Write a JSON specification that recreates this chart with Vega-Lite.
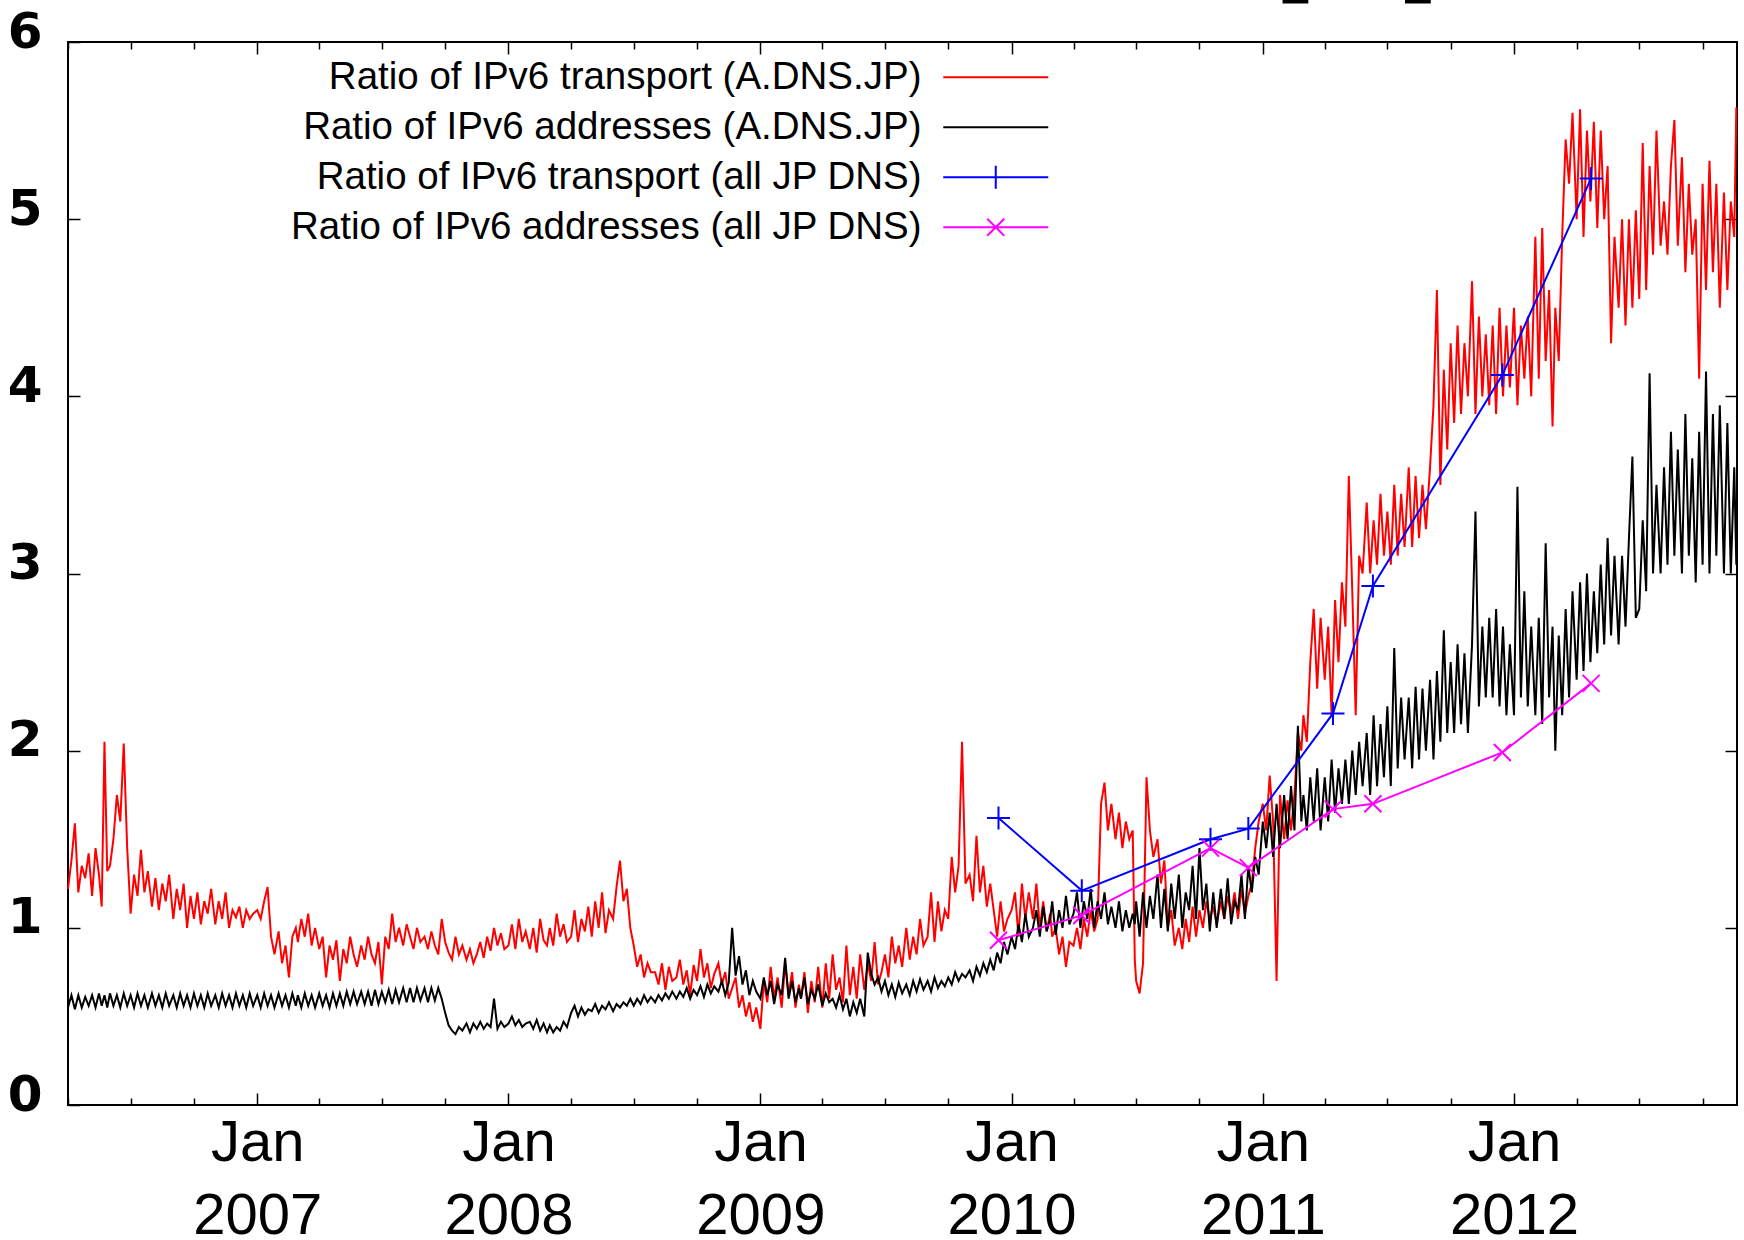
{
  "$schema": "https://vega.github.io/schema/vega-lite/v6.json",
  "width": 1669,
  "height": 1063,
  "autosize": {"type": "none"},
  "padding": {"left": 68, "top": 42, "right": 7, "bottom": 135},
  "background": "white",
  "config": {
    "font": "Liberation Sans",
    "view": {"stroke": "#000", "strokeWidth": 2},
    "axis": {"grid": false, "domain": false, "tickColor": "#000", "tickWidth": 1.5, "labelColor": "#000", "title": null}
  },
  "datasets": {
    "main": [
      {"t":"2006-04-01","r":1.22,"b":0.55},{"t":"2006-04-06","r":1.38,"b":0.62},{"t":"2006-04-11","r":1.59,"b":0.54},{"t":"2006-04-16","r":1.20,"b":0.62},{"t":"2006-04-21","r":1.35,"b":0.55},{"t":"2006-04-26","r":1.28,"b":0.61},
      {"t":"2006-05-01","r":1.42,"b":0.56},{"t":"2006-05-06","r":1.18,"b":0.62},{"t":"2006-05-11","r":1.45,"b":0.55},{"t":"2006-05-16","r":1.30,"b":0.63},{"t":"2006-05-20","r":1.12,"b":0.56},{"t":"2006-05-24","r":2.05,"b":0.62},{"t":"2006-05-28","r":1.32,"b":0.55},
      {"t":"2006-06-01","r":1.35,"b":0.63},{"t":"2006-06-06","r":1.50,"b":0.56},{"t":"2006-06-11","r":1.75,"b":0.62},{"t":"2006-06-16","r":1.60,"b":0.55},{"t":"2006-06-21","r":2.04,"b":0.63},{"t":"2006-06-26","r":1.45,"b":0.56},
      {"t":"2006-07-01","r":1.08,"b":0.62},{"t":"2006-07-06","r":1.30,"b":0.55},{"t":"2006-07-11","r":1.18,"b":0.63},{"t":"2006-07-16","r":1.44,"b":0.56},{"t":"2006-07-21","r":1.20,"b":0.62},{"t":"2006-07-26","r":1.32,"b":0.55},
      {"t":"2006-08-01","r":1.12,"b":0.63},{"t":"2006-08-06","r":1.28,"b":0.56},{"t":"2006-08-11","r":1.10,"b":0.62},{"t":"2006-08-16","r":1.25,"b":0.55},{"t":"2006-08-21","r":1.15,"b":0.63},{"t":"2006-08-26","r":1.30,"b":0.56},
      {"t":"2006-09-01","r":1.05,"b":0.62},{"t":"2006-09-06","r":1.22,"b":0.55},{"t":"2006-09-11","r":1.10,"b":0.63},{"t":"2006-09-16","r":1.25,"b":0.56},{"t":"2006-09-21","r":1.00,"b":0.62},{"t":"2006-09-26","r":1.18,"b":0.55},
      {"t":"2006-10-01","r":1.05,"b":0.63},{"t":"2006-10-06","r":1.20,"b":0.56},{"t":"2006-10-11","r":1.02,"b":0.62},{"t":"2006-10-16","r":1.15,"b":0.55},{"t":"2006-10-21","r":1.08,"b":0.63},{"t":"2006-10-26","r":1.22,"b":0.56},
      {"t":"2006-11-01","r":1.02,"b":0.62},{"t":"2006-11-06","r":1.15,"b":0.55},{"t":"2006-11-11","r":1.05,"b":0.63},{"t":"2006-11-16","r":1.20,"b":0.56},{"t":"2006-11-21","r":1.00,"b":0.62},{"t":"2006-11-26","r":1.10,"b":0.55},
      {"t":"2006-12-01","r":1.06,"b":0.63},{"t":"2006-12-06","r":1.12,"b":0.56},{"t":"2006-12-11","r":1.00,"b":0.62},{"t":"2006-12-16","r":1.10,"b":0.55},{"t":"2006-12-21","r":1.05,"b":0.63},{"t":"2006-12-26","r":1.08,"b":0.56},
      {"t":"2007-01-01","r":1.10,"b":0.62},{"t":"2007-01-06","r":1.05,"b":0.55},{"t":"2007-01-11","r":1.15,"b":0.63},{"t":"2007-01-16","r":1.23,"b":0.56},{"t":"2007-01-21","r":0.95,"b":0.62},{"t":"2007-01-26","r":0.85,"b":0.55},
      {"t":"2007-02-01","r":0.98,"b":0.63},{"t":"2007-02-06","r":0.80,"b":0.56},{"t":"2007-02-11","r":0.90,"b":0.62},{"t":"2007-02-16","r":0.72,"b":0.55},{"t":"2007-02-21","r":0.95,"b":0.63},{"t":"2007-02-26","r":1.00,"b":0.56},
      {"t":"2007-03-01","r":0.92,"b":0.62},{"t":"2007-03-06","r":1.05,"b":0.55},{"t":"2007-03-11","r":0.95,"b":0.63},{"t":"2007-03-16","r":1.08,"b":0.56},{"t":"2007-03-21","r":0.90,"b":0.62},{"t":"2007-03-26","r":1.00,"b":0.55},
      {"t":"2007-04-01","r":0.88,"b":0.63},{"t":"2007-04-06","r":0.95,"b":0.56},{"t":"2007-04-11","r":0.72,"b":0.62},{"t":"2007-04-16","r":0.90,"b":0.55},{"t":"2007-04-21","r":0.82,"b":0.63},{"t":"2007-04-26","r":0.93,"b":0.56},
      {"t":"2007-05-01","r":0.70,"b":0.63},{"t":"2007-05-06","r":0.88,"b":0.56},{"t":"2007-05-11","r":0.80,"b":0.64},{"t":"2007-05-16","r":0.95,"b":0.57},{"t":"2007-05-21","r":0.85,"b":0.64},{"t":"2007-05-26","r":0.78,"b":0.57},
      {"t":"2007-06-01","r":0.90,"b":0.64},{"t":"2007-06-06","r":0.82,"b":0.57},{"t":"2007-06-11","r":0.95,"b":0.64},{"t":"2007-06-16","r":0.85,"b":0.56},{"t":"2007-06-21","r":0.80,"b":0.65},{"t":"2007-06-26","r":0.92,"b":0.57},
      {"t":"2007-07-01","r":0.68,"b":0.64},{"t":"2007-07-06","r":0.95,"b":0.58},{"t":"2007-07-11","r":0.88,"b":0.65},{"t":"2007-07-16","r":1.08,"b":0.57},{"t":"2007-07-21","r":0.92,"b":0.65},{"t":"2007-07-26","r":1.00,"b":0.58},
      {"t":"2007-08-01","r":0.90,"b":0.66},{"t":"2007-08-06","r":1.02,"b":0.58},{"t":"2007-08-11","r":0.95,"b":0.66},{"t":"2007-08-16","r":0.88,"b":0.58},{"t":"2007-08-21","r":1.00,"b":0.66},{"t":"2007-08-26","r":0.92,"b":0.59},
      {"t":"2007-09-01","r":0.95,"b":0.66},{"t":"2007-09-06","r":0.88,"b":0.58},{"t":"2007-09-11","r":0.98,"b":0.66},{"t":"2007-09-16","r":0.90,"b":0.59},{"t":"2007-09-21","r":0.85,"b":0.66},{"t":"2007-09-26","r":1.05,"b":0.60},
      {"t":"2007-10-01","r":0.92,"b":0.52},{"t":"2007-10-06","r":0.86,"b":0.45},{"t":"2007-10-11","r":0.82,"b":0.42},{"t":"2007-10-16","r":0.95,"b":0.40},{"t":"2007-10-21","r":0.85,"b":0.44},{"t":"2007-10-26","r":0.90,"b":0.42},
      {"t":"2007-11-01","r":0.82,"b":0.46},{"t":"2007-11-06","r":0.88,"b":0.41},{"t":"2007-11-11","r":0.80,"b":0.46},{"t":"2007-11-16","r":0.85,"b":0.43},{"t":"2007-11-21","r":0.92,"b":0.47},{"t":"2007-11-26","r":0.83,"b":0.43},
      {"t":"2007-12-01","r":0.95,"b":0.46},{"t":"2007-12-06","r":0.87,"b":0.44},{"t":"2007-12-11","r":1.00,"b":0.60},{"t":"2007-12-16","r":0.90,"b":0.43},{"t":"2007-12-21","r":0.97,"b":0.47},{"t":"2007-12-26","r":0.88,"b":0.44},
      {"t":"2008-01-01","r":0.90,"b":0.46},{"t":"2008-01-06","r":1.02,"b":0.50},{"t":"2008-01-11","r":0.88,"b":0.45},{"t":"2008-01-16","r":1.05,"b":0.48},{"t":"2008-01-21","r":0.92,"b":0.44},{"t":"2008-01-26","r":0.98,"b":0.46},
      {"t":"2008-02-01","r":0.88,"b":0.47},{"t":"2008-02-06","r":1.00,"b":0.43},{"t":"2008-02-11","r":0.86,"b":0.48},{"t":"2008-02-16","r":1.05,"b":0.42},{"t":"2008-02-21","r":0.93,"b":0.46},{"t":"2008-02-26","r":0.90,"b":0.41},
      {"t":"2008-03-01","r":1.00,"b":0.45},{"t":"2008-03-06","r":0.90,"b":0.41},{"t":"2008-03-11","r":1.08,"b":0.44},{"t":"2008-03-16","r":0.95,"b":0.42},{"t":"2008-03-21","r":1.02,"b":0.47},{"t":"2008-03-26","r":0.92,"b":0.44},
      {"t":"2008-04-01","r":0.95,"b":0.52},{"t":"2008-04-06","r":1.10,"b":0.56},{"t":"2008-04-11","r":0.92,"b":0.50},{"t":"2008-04-16","r":1.05,"b":0.55},{"t":"2008-04-21","r":0.98,"b":0.51},{"t":"2008-04-26","r":1.12,"b":0.54},
      {"t":"2008-05-01","r":0.95,"b":0.53},{"t":"2008-05-06","r":1.15,"b":0.57},{"t":"2008-05-11","r":1.00,"b":0.52},{"t":"2008-05-16","r":1.20,"b":0.56},{"t":"2008-05-21","r":0.97,"b":0.54},{"t":"2008-05-26","r":1.10,"b":0.58},
      {"t":"2008-06-01","r":1.05,"b":0.53},{"t":"2008-06-06","r":1.23,"b":0.57},{"t":"2008-06-11","r":1.38,"b":0.55},{"t":"2008-06-16","r":1.15,"b":0.58},{"t":"2008-06-21","r":1.22,"b":0.56},{"t":"2008-06-26","r":1.00,"b":0.60},
      {"t":"2008-07-01","r":0.90,"b":0.56},{"t":"2008-07-06","r":0.78,"b":0.60},{"t":"2008-07-11","r":0.85,"b":0.57},{"t":"2008-07-16","r":0.72,"b":0.62},{"t":"2008-07-21","r":0.80,"b":0.58},{"t":"2008-07-26","r":0.75,"b":0.61},
      {"t":"2008-08-01","r":0.75,"b":0.58},{"t":"2008-08-06","r":0.68,"b":0.62},{"t":"2008-08-11","r":0.80,"b":0.59},{"t":"2008-08-16","r":0.65,"b":0.63},{"t":"2008-08-21","r":0.78,"b":0.60},{"t":"2008-08-26","r":0.70,"b":0.64},
      {"t":"2008-09-01","r":0.72,"b":0.60},{"t":"2008-09-06","r":0.82,"b":0.64},{"t":"2008-09-11","r":0.68,"b":0.61},{"t":"2008-09-16","r":0.76,"b":0.66},{"t":"2008-09-21","r":0.62,"b":0.60},{"t":"2008-09-26","r":0.79,"b":0.65},
      {"t":"2008-10-01","r":0.70,"b":0.62},{"t":"2008-10-06","r":0.88,"b":0.67},{"t":"2008-10-11","r":0.72,"b":0.61},{"t":"2008-10-16","r":0.80,"b":0.68},{"t":"2008-10-21","r":0.66,"b":0.63},{"t":"2008-10-26","r":0.74,"b":0.67},
      {"t":"2008-11-01","r":0.80,"b":0.64},{"t":"2008-11-06","r":0.68,"b":0.70},{"t":"2008-11-11","r":0.75,"b":0.62},{"t":"2008-11-16","r":0.60,"b":0.69},{"t":"2008-11-21","r":0.66,"b":1.00},{"t":"2008-11-26","r":0.72,"b":0.73},
      {"t":"2008-12-01","r":0.55,"b":0.84},{"t":"2008-12-06","r":0.62,"b":0.68},{"t":"2008-12-11","r":0.50,"b":0.76},{"t":"2008-12-16","r":0.58,"b":0.62},{"t":"2008-12-21","r":0.47,"b":0.70},{"t":"2008-12-26","r":0.55,"b":0.64},
      {"t":"2009-01-01","r":0.43,"b":0.60},{"t":"2009-01-06","r":0.70,"b":0.72},{"t":"2009-01-11","r":0.58,"b":0.62},{"t":"2009-01-16","r":0.78,"b":0.70},{"t":"2009-01-21","r":0.60,"b":0.57},{"t":"2009-01-26","r":0.72,"b":0.68},
      {"t":"2009-02-01","r":0.55,"b":0.62},{"t":"2009-02-06","r":0.80,"b":0.83},{"t":"2009-02-11","r":0.62,"b":0.60},{"t":"2009-02-16","r":0.75,"b":0.70},{"t":"2009-02-21","r":0.55,"b":0.58},{"t":"2009-02-26","r":0.68,"b":0.66},
      {"t":"2009-03-01","r":0.60,"b":0.60},{"t":"2009-03-06","r":0.75,"b":0.72},{"t":"2009-03-11","r":0.52,"b":0.57},{"t":"2009-03-16","r":0.70,"b":0.65},{"t":"2009-03-21","r":0.58,"b":0.60},{"t":"2009-03-26","r":0.78,"b":0.68},
      {"t":"2009-04-01","r":0.55,"b":0.56},{"t":"2009-04-06","r":0.80,"b":0.63},{"t":"2009-04-11","r":0.60,"b":0.58},{"t":"2009-04-16","r":0.85,"b":0.60},{"t":"2009-04-21","r":0.65,"b":0.55},{"t":"2009-04-26","r":0.72,"b":0.62},
      {"t":"2009-05-01","r":0.58,"b":0.54},{"t":"2009-05-06","r":0.90,"b":0.60},{"t":"2009-05-11","r":0.62,"b":0.50},{"t":"2009-05-16","r":0.78,"b":0.58},{"t":"2009-05-21","r":0.60,"b":0.52},{"t":"2009-05-26","r":0.85,"b":0.60},
      {"t":"2009-06-01","r":0.65,"b":0.50},{"t":"2009-06-06","r":0.80,"b":0.86},{"t":"2009-06-11","r":0.70,"b":0.74},{"t":"2009-06-16","r":0.92,"b":0.68},{"t":"2009-06-21","r":0.68,"b":0.72},{"t":"2009-06-26","r":0.75,"b":0.64},
      {"t":"2009-07-01","r":0.85,"b":0.70},{"t":"2009-07-06","r":0.72,"b":0.62},{"t":"2009-07-11","r":0.95,"b":0.68},{"t":"2009-07-16","r":0.80,"b":0.61},{"t":"2009-07-21","r":0.90,"b":0.69},{"t":"2009-07-26","r":0.78,"b":0.63},
      {"t":"2009-08-01","r":1.00,"b":0.68},{"t":"2009-08-06","r":0.82,"b":0.62},{"t":"2009-08-11","r":0.95,"b":0.70},{"t":"2009-08-16","r":0.85,"b":0.64},{"t":"2009-08-21","r":1.05,"b":0.71},{"t":"2009-08-26","r":0.90,"b":0.65},
      {"t":"2009-09-01","r":0.95,"b":0.70},{"t":"2009-09-06","r":1.20,"b":0.64},{"t":"2009-09-11","r":0.92,"b":0.72},{"t":"2009-09-16","r":1.15,"b":0.66},{"t":"2009-09-21","r":0.98,"b":0.70},{"t":"2009-09-26","r":1.10,"b":0.67},
      {"t":"2009-10-01","r":1.05,"b":0.72},{"t":"2009-10-06","r":1.40,"b":0.68},{"t":"2009-10-11","r":1.20,"b":0.75},{"t":"2009-10-16","r":1.35,"b":0.70},{"t":"2009-10-21","r":2.05,"b":0.74},{"t":"2009-10-26","r":1.25,"b":0.72},
      {"t":"2009-11-01","r":1.30,"b":0.76},{"t":"2009-11-06","r":1.15,"b":0.70},{"t":"2009-11-11","r":1.52,"b":0.78},{"t":"2009-11-16","r":1.20,"b":0.73},{"t":"2009-11-21","r":1.35,"b":0.80},{"t":"2009-11-26","r":1.12,"b":0.75},
      {"t":"2009-12-01","r":1.25,"b":0.82},{"t":"2009-12-06","r":1.10,"b":0.76},{"t":"2009-12-11","r":0.95,"b":0.86},{"t":"2009-12-16","r":1.15,"b":0.80},{"t":"2009-12-21","r":0.98,"b":0.92},{"t":"2009-12-26","r":1.05,"b":0.85},
      {"t":"2010-01-01","r":1.10,"b":0.95},{"t":"2010-01-06","r":1.20,"b":0.88},{"t":"2010-01-11","r":0.95,"b":1.02},{"t":"2010-01-16","r":1.25,"b":0.92},{"t":"2010-01-21","r":1.05,"b":1.08},{"t":"2010-01-26","r":1.20,"b":0.95},
      {"t":"2010-02-01","r":1.05,"b":1.00},{"t":"2010-02-06","r":1.25,"b":1.10},{"t":"2010-02-11","r":1.00,"b":0.95},{"t":"2010-02-16","r":1.15,"b":1.12},{"t":"2010-02-21","r":0.98,"b":0.98},{"t":"2010-02-26","r":1.08,"b":1.05},
      {"t":"2010-03-01","r":0.95,"b":1.15},{"t":"2010-03-06","r":1.00,"b":0.96},{"t":"2010-03-11","r":0.85,"b":1.10},{"t":"2010-03-16","r":0.95,"b":1.00},{"t":"2010-03-21","r":0.78,"b":1.18},{"t":"2010-03-26","r":0.92,"b":1.02},
      {"t":"2010-04-01","r":0.90,"b":1.08},{"t":"2010-04-06","r":1.00,"b":1.20},{"t":"2010-04-11","r":0.88,"b":1.00},{"t":"2010-04-16","r":1.05,"b":1.15},{"t":"2010-04-21","r":0.95,"b":1.05},{"t":"2010-04-26","r":1.10,"b":1.22},
      {"t":"2010-05-01","r":0.98,"b":1.00},{"t":"2010-05-06","r":1.05,"b":1.15},{"t":"2010-05-11","r":1.70,"b":1.05},{"t":"2010-05-16","r":1.82,"b":1.20},{"t":"2010-05-21","r":1.55,"b":1.02},{"t":"2010-05-26","r":1.70,"b":1.12},
      {"t":"2010-06-01","r":1.50,"b":1.00},{"t":"2010-06-06","r":1.65,"b":1.15},{"t":"2010-06-11","r":1.45,"b":0.98},{"t":"2010-06-16","r":1.60,"b":1.10},{"t":"2010-06-21","r":1.50,"b":1.00},{"t":"2010-06-26","r":1.55,"b":1.08},{"t":"2010-06-29","r":0.82,"b":1.02},
      {"t":"2010-07-01","r":0.70,"b":1.15},{"t":"2010-07-06","r":0.63,"b":0.95},{"t":"2010-07-11","r":0.80,"b":1.20},{"t":"2010-07-16","r":1.85,"b":1.00},{"t":"2010-07-21","r":1.55,"b":1.18},{"t":"2010-07-26","r":1.40,"b":1.05},
      {"t":"2010-08-01","r":1.50,"b":1.30},{"t":"2010-08-06","r":1.25,"b":1.00},{"t":"2010-08-11","r":1.38,"b":1.22},{"t":"2010-08-16","r":1.00,"b":0.98},{"t":"2010-08-21","r":1.10,"b":1.25},{"t":"2010-08-26","r":0.90,"b":1.05},
      {"t":"2010-09-01","r":1.00,"b":1.30},{"t":"2010-09-06","r":0.88,"b":1.00},{"t":"2010-09-11","r":1.05,"b":1.20},{"t":"2010-09-16","r":0.92,"b":1.10},{"t":"2010-09-21","r":1.12,"b":1.35},{"t":"2010-09-26","r":0.95,"b":1.05},
      {"t":"2010-10-01","r":1.10,"b":1.45},{"t":"2010-10-06","r":1.00,"b":1.10},{"t":"2010-10-11","r":1.15,"b":1.25},{"t":"2010-10-16","r":1.05,"b":0.98},{"t":"2010-10-21","r":1.12,"b":1.20},{"t":"2010-10-26","r":1.02,"b":1.00},
      {"t":"2010-11-01","r":1.15,"b":1.22},{"t":"2010-11-06","r":1.05,"b":1.05},{"t":"2010-11-11","r":1.18,"b":1.28},{"t":"2010-11-16","r":1.08,"b":1.02},{"t":"2010-11-21","r":1.20,"b":1.15},{"t":"2010-11-26","r":1.05,"b":1.10},
      {"t":"2010-12-01","r":1.22,"b":1.30},{"t":"2010-12-06","r":1.08,"b":1.05},{"t":"2010-12-11","r":1.18,"b":1.35},{"t":"2010-12-16","r":1.25,"b":1.20},{"t":"2010-12-21","r":1.45,"b":1.40},{"t":"2010-12-26","r":1.60,"b":1.30},
      {"t":"2011-01-01","r":1.70,"b":1.60},{"t":"2011-01-06","r":1.55,"b":1.45},{"t":"2011-01-11","r":1.86,"b":1.65},{"t":"2011-01-16","r":1.60,"b":1.40},{"t":"2011-01-21","r":0.70,"b":1.70},{"t":"2011-01-26","r":1.75,"b":1.45},
      {"t":"2011-02-01","r":1.50,"b":1.75},{"t":"2011-02-06","r":1.72,"b":1.50},{"t":"2011-02-11","r":1.55,"b":1.80},{"t":"2011-02-16","r":1.75,"b":1.55},{"t":"2011-02-21","r":2.10,"b":2.14},{"t":"2011-02-26","r":2.00,"b":1.60},
      {"t":"2011-03-01","r":2.20,"b":1.75},{"t":"2011-03-06","r":2.05,"b":1.55},{"t":"2011-03-11","r":2.50,"b":1.85},{"t":"2011-03-16","r":2.80,"b":1.60},{"t":"2011-03-21","r":2.35,"b":1.90},{"t":"2011-03-26","r":2.75,"b":1.55},
      {"t":"2011-04-01","r":2.40,"b":1.85},{"t":"2011-04-06","r":2.70,"b":1.60},{"t":"2011-04-11","r":2.20,"b":1.95},{"t":"2011-04-16","r":2.85,"b":1.65},{"t":"2011-04-21","r":2.50,"b":1.90},{"t":"2011-04-26","r":2.95,"b":1.70},
      {"t":"2011-05-01","r":2.70,"b":1.95},{"t":"2011-05-06","r":3.55,"b":1.70},{"t":"2011-05-11","r":2.90,"b":2.00},{"t":"2011-05-16","r":2.20,"b":1.75},{"t":"2011-05-21","r":3.10,"b":2.05},{"t":"2011-05-26","r":3.00,"b":1.80},
      {"t":"2011-06-01","r":3.40,"b":2.10},{"t":"2011-06-06","r":3.00,"b":1.75},{"t":"2011-06-11","r":3.30,"b":2.20},{"t":"2011-06-16","r":3.05,"b":1.80},{"t":"2011-06-21","r":3.45,"b":2.15},{"t":"2011-06-26","r":3.10,"b":1.85},
      {"t":"2011-07-01","r":3.35,"b":2.25},{"t":"2011-07-06","r":3.05,"b":1.80},{"t":"2011-07-11","r":3.50,"b":2.58},{"t":"2011-07-16","r":3.10,"b":1.90},{"t":"2011-07-21","r":3.45,"b":2.30},{"t":"2011-07-26","r":3.15,"b":1.95},
      {"t":"2011-08-01","r":3.60,"b":2.30},{"t":"2011-08-06","r":3.15,"b":1.90},{"t":"2011-08-11","r":3.55,"b":2.36},{"t":"2011-08-16","r":3.20,"b":1.95},{"t":"2011-08-21","r":3.50,"b":2.35},{"t":"2011-08-26","r":3.25,"b":2.00},
      {"t":"2011-09-01","r":3.60,"b":2.40},{"t":"2011-09-06","r":3.95,"b":1.95},{"t":"2011-09-11","r":4.60,"b":2.45},{"t":"2011-09-16","r":3.50,"b":2.05},{"t":"2011-09-21","r":4.15,"b":2.68},{"t":"2011-09-26","r":3.70,"b":2.10},
      {"t":"2011-10-01","r":4.30,"b":2.50},{"t":"2011-10-06","r":3.85,"b":2.10},{"t":"2011-10-11","r":4.40,"b":2.60},{"t":"2011-10-16","r":3.90,"b":2.15},{"t":"2011-10-21","r":4.30,"b":2.55},{"t":"2011-10-26","r":4.00,"b":2.10},
      {"t":"2011-11-01","r":4.65,"b":2.60},{"t":"2011-11-06","r":3.90,"b":3.35},{"t":"2011-11-11","r":4.45,"b":2.25},{"t":"2011-11-16","r":4.00,"b":2.70},{"t":"2011-11-21","r":4.35,"b":2.30},{"t":"2011-11-26","r":3.95,"b":2.75},
      {"t":"2011-12-01","r":4.40,"b":2.30},{"t":"2011-12-06","r":3.90,"b":2.80},{"t":"2011-12-11","r":4.50,"b":2.25},{"t":"2011-12-16","r":4.00,"b":2.70},{"t":"2011-12-21","r":4.40,"b":2.20},{"t":"2011-12-26","r":4.05,"b":2.60},
      {"t":"2012-01-01","r":4.50,"b":2.20},{"t":"2012-01-06","r":3.95,"b":3.49},{"t":"2012-01-11","r":4.40,"b":2.30},{"t":"2012-01-16","r":4.10,"b":2.90},{"t":"2012-01-21","r":4.45,"b":2.25},{"t":"2012-01-26","r":4.00,"b":2.70},
      {"t":"2012-02-01","r":4.90,"b":2.20},{"t":"2012-02-06","r":4.10,"b":2.75},{"t":"2012-02-11","r":4.95,"b":2.15},{"t":"2012-02-16","r":4.20,"b":3.17},{"t":"2012-02-21","r":4.60,"b":2.30},{"t":"2012-02-26","r":3.83,"b":2.70},
      {"t":"2012-03-01","r":4.50,"b":2.00},{"t":"2012-03-06","r":4.20,"b":2.65},{"t":"2012-03-11","r":4.90,"b":2.20},{"t":"2012-03-16","r":5.45,"b":2.80},{"t":"2012-03-21","r":5.20,"b":2.30},{"t":"2012-03-26","r":5.60,"b":2.90},
      {"t":"2012-04-01","r":5.00,"b":2.40},{"t":"2012-04-06","r":5.62,"b":2.95},{"t":"2012-04-11","r":4.90,"b":2.45},{"t":"2012-04-16","r":5.50,"b":3.00},{"t":"2012-04-21","r":5.10,"b":2.50},{"t":"2012-04-26","r":5.55,"b":2.90},
      {"t":"2012-05-01","r":4.95,"b":2.55},{"t":"2012-05-06","r":5.50,"b":3.05},{"t":"2012-05-11","r":5.00,"b":2.60},{"t":"2012-05-16","r":5.30,"b":3.20},{"t":"2012-05-21","r":4.30,"b":2.65},{"t":"2012-05-26","r":4.90,"b":3.10},
      {"t":"2012-06-01","r":4.50,"b":2.60},{"t":"2012-06-06","r":5.00,"b":3.10},{"t":"2012-06-11","r":4.40,"b":2.70},{"t":"2012-06-16","r":5.00,"b":3.20},{"t":"2012-06-21","r":4.50,"b":3.66},{"t":"2012-06-26","r":5.05,"b":2.75},
      {"t":"2012-07-01","r":4.55,"b":2.80},{"t":"2012-07-06","r":5.43,"b":3.30},{"t":"2012-07-11","r":4.60,"b":2.90},{"t":"2012-07-16","r":5.30,"b":4.13},{"t":"2012-07-21","r":4.80,"b":3.00},{"t":"2012-07-26","r":5.50,"b":3.50},
      {"t":"2012-08-01","r":4.85,"b":3.00},{"t":"2012-08-06","r":5.10,"b":3.60},{"t":"2012-08-11","r":4.80,"b":3.05},{"t":"2012-08-16","r":5.30,"b":3.80},{"t":"2012-08-21","r":5.56,"b":3.10},{"t":"2012-08-26","r":4.85,"b":3.70},
      {"t":"2012-09-01","r":5.35,"b":3.00},{"t":"2012-09-06","r":4.70,"b":3.90},{"t":"2012-09-11","r":5.20,"b":3.10},{"t":"2012-09-16","r":4.80,"b":3.65},{"t":"2012-09-21","r":5.00,"b":2.95},{"t":"2012-09-26","r":4.10,"b":3.80},
      {"t":"2012-10-01","r":5.20,"b":3.05},{"t":"2012-10-06","r":4.60,"b":4.14},{"t":"2012-10-11","r":5.33,"b":3.00},{"t":"2012-10-16","r":4.70,"b":3.90},{"t":"2012-10-21","r":5.20,"b":3.10},{"t":"2012-10-26","r":4.50,"b":3.95},
      {"t":"2012-11-01","r":5.15,"b":3.00},{"t":"2012-11-06","r":4.60,"b":3.85},{"t":"2012-11-11","r":5.10,"b":3.00},{"t":"2012-11-16","r":4.90,"b":3.60},{"t":"2012-11-19","r":5.63,"b":3.05}
    ],
    "jp": [
      {"t":"2009-12-13","tr":1.62,"ad":0.93},
      {"t":"2010-04-13","tr":1.21,"ad":1.07},
      {"t":"2010-10-17","tr":1.50,"ad":1.45},
      {"t":"2010-12-11","tr":1.56,"ad":1.34},
      {"t":"2011-04-13","tr":2.21,"ad":1.67},
      {"t":"2011-06-10","tr":2.93,"ad":1.70},
      {"t":"2011-12-15","tr":4.12,"ad":1.99},
      {"t":"2012-04-22","tr":5.23,"ad":2.38}
    ],
    "unit": [{"label": "[%]"}]
  },
  "resolve": {"axis": {"x": "independent", "y": "independent"}},
  "layer": [
    {
      "data": {"name": "main"},
      "transform": [{"fold": ["r", "b"], "as": ["key", "value"]}],
      "mark": {"type": "line", "strokeWidth": 2},
      "encoding": {
        "x": {"field": "t", "type": "temporal",
          "scale": {"type": "utc", "domain": [{"year": 2006, "month": 4, "date": 1, "utc": true}, {"year": 2012, "month": 11, "date": 20, "utc": true}]},
          "axis": {"orient": "bottom", "title": null, "tickSize": -12, "labelPadding": 21,
            "values": [{"year": 2007, "month": 1, "date": 1, "utc": true}, {"year": 2008, "month": 1, "date": 1, "utc": true}, {"year": 2009, "month": 1, "date": 1, "utc": true}, {"year": 2010, "month": 1, "date": 1, "utc": true}, {"year": 2011, "month": 1, "date": 1, "utc": true}, {"year": 2012, "month": 1, "date": 1, "utc": true}],
            "labelExpr": "['Jan', utcFormat(datum.value, '%Y')]",
            "labelFont": "Liberation Sans", "labelFontSize": 58, "labelLineHeight": 73, "labelBaseline": "top", "labelAlign": "center", "labelOverlap": false, "labelFlush": false}},
        "y": {"field": "value", "type": "quantitative",
          "scale": {"domain": [0, 6], "nice": false, "zero": false},
          "axis": {"orient": "left", "title": null, "values": [0, 1, 2, 3, 4, 5, 6], "tickSize": -12, "labelPadding": 38, "labelOffset": -10,
            "labelFont": "DejaVu Sans", "labelFontWeight": "bold", "labelFontSize": 50, "labelOverlap": false, "labelFlush": false}},
        "color": {"field": "key", "type": "nominal",
          "scale": {"domain": ["r", "b", "tr", "ad"], "range": ["#ff0000", "#000000", "#0000ff", "#ff00ff"]},
          "legend": {"orient": "none", "legendX": 908.5, "legendY": 16, "title": null, "padding": 0,
            "labelFont": "Liberation Sans", "labelFontSize": 38.5, "labelColor": "#000", "labelAlign": "right", "labelBaseline": "middle",
            "labelOffset": -93.5, "labelLimit": 2000, "symbolSize": 529, "symbolStrokeWidth": 2, "rowPadding": 11,
            "labelExpr": "datum.value == 'r' ? 'Ratio of IPv6 transport (A.DNS.JP)' : datum.value == 'b' ? 'Ratio of IPv6 addresses (A.DNS.JP)' : datum.value == 'tr' ? 'Ratio of IPv6 transport (all JP DNS)' : 'Ratio of IPv6 addresses (all JP DNS)'",
            "encode": {"symbols": {"update": {
              "shape": {"signal": "datum.value == 'tr' ? 'M-64,0M-4.565,0H4.565M0,-1V1' : datum.value == 'ad' ? 'M-64,0M-4.565,0H4.565M-0.74,-0.74L0.74,0.74M-0.74,0.74L0.74,-0.74' : 'M-64,0M-4.565,0H4.565'"},
              "stroke": {"scale": "color", "field": "value"},
              "fill": {"value": "transparent"},
              "strokeWidth": {"value": 2},
              "opacity": {"value": 1}
            }}}}}
      }
    },
    {
      "data": {"name": "jp"},
      "transform": [{"fold": ["tr", "ad"], "as": ["key", "value"]}],
      "mark": {"type": "line", "strokeWidth": 2},
      "encoding": {
        "x": {"field": "t", "type": "temporal",
          "axis": {"orient": "bottom", "title": null, "labels": false, "tickSize": -7,
            "values": [{"year": 2006, "month": 4, "date": 1, "utc": true}, {"year": 2006, "month": 7, "date": 1, "utc": true}, {"year": 2006, "month": 10, "date": 1, "utc": true}, {"year": 2007, "month": 4, "date": 1, "utc": true}, {"year": 2007, "month": 7, "date": 1, "utc": true}, {"year": 2007, "month": 10, "date": 1, "utc": true}, {"year": 2008, "month": 4, "date": 1, "utc": true}, {"year": 2008, "month": 7, "date": 1, "utc": true}, {"year": 2008, "month": 10, "date": 1, "utc": true}, {"year": 2009, "month": 4, "date": 1, "utc": true}, {"year": 2009, "month": 7, "date": 1, "utc": true}, {"year": 2009, "month": 10, "date": 1, "utc": true}, {"year": 2010, "month": 4, "date": 1, "utc": true}, {"year": 2010, "month": 7, "date": 1, "utc": true}, {"year": 2010, "month": 10, "date": 1, "utc": true}, {"year": 2011, "month": 4, "date": 1, "utc": true}, {"year": 2011, "month": 7, "date": 1, "utc": true}, {"year": 2011, "month": 10, "date": 1, "utc": true}, {"year": 2012, "month": 4, "date": 1, "utc": true}, {"year": 2012, "month": 7, "date": 1, "utc": true}, {"year": 2012, "month": 10, "date": 1, "utc": true}]}},
        "y": {"field": "value", "type": "quantitative",
          "axis": {"orient": "right", "title": null, "labels": false, "values": [1, 2, 3, 4, 5], "tickSize": -12}},
        "color": {"field": "key", "type": "nominal"}
      }
    },
    {
      "data": {"name": "jp"},
      "mark": {"type": "point", "shape": "M-1,0H1M0,-1V1", "size": 529, "filled": false, "strokeWidth": 2, "color": "#0000ff", "opacity": 1},
      "encoding": {
        "x": {"field": "t", "type": "temporal",
          "axis": {"orient": "top", "title": null, "labels": false, "tickSize": -12,
            "values": [{"year": 2007, "month": 1, "date": 1, "utc": true}, {"year": 2008, "month": 1, "date": 1, "utc": true}, {"year": 2009, "month": 1, "date": 1, "utc": true}, {"year": 2010, "month": 1, "date": 1, "utc": true}, {"year": 2011, "month": 1, "date": 1, "utc": true}, {"year": 2012, "month": 1, "date": 1, "utc": true}]}},
        "y": {"field": "tr", "type": "quantitative", "axis": null}
      }
    },
    {
      "data": {"name": "jp"},
      "mark": {"type": "point", "shape": "M-1,-1L1,1M-1,1L1,-1", "size": 289, "filled": false, "strokeWidth": 2, "color": "#ff00ff", "opacity": 1},
      "encoding": {
        "x": {"field": "t", "type": "temporal",
          "axis": {"orient": "top", "title": null, "labels": false, "tickSize": -7,
            "values": [{"year": 2006, "month": 4, "date": 1, "utc": true}, {"year": 2006, "month": 7, "date": 1, "utc": true}, {"year": 2006, "month": 10, "date": 1, "utc": true}, {"year": 2007, "month": 4, "date": 1, "utc": true}, {"year": 2007, "month": 7, "date": 1, "utc": true}, {"year": 2007, "month": 10, "date": 1, "utc": true}, {"year": 2008, "month": 4, "date": 1, "utc": true}, {"year": 2008, "month": 7, "date": 1, "utc": true}, {"year": 2008, "month": 10, "date": 1, "utc": true}, {"year": 2009, "month": 4, "date": 1, "utc": true}, {"year": 2009, "month": 7, "date": 1, "utc": true}, {"year": 2009, "month": 10, "date": 1, "utc": true}, {"year": 2010, "month": 4, "date": 1, "utc": true}, {"year": 2010, "month": 7, "date": 1, "utc": true}, {"year": 2010, "month": 10, "date": 1, "utc": true}, {"year": 2011, "month": 4, "date": 1, "utc": true}, {"year": 2011, "month": 7, "date": 1, "utc": true}, {"year": 2011, "month": 10, "date": 1, "utc": true}, {"year": 2012, "month": 4, "date": 1, "utc": true}, {"year": 2012, "month": 7, "date": 1, "utc": true}, {"year": 2012, "month": 10, "date": 1, "utc": true}]}},
        "y": {"field": "ad", "type": "quantitative", "axis": null}
      }
    },
    {
      "data": {"name": "unit"},
      "mark": {"type": "text", "font": "DejaVu Sans", "fontWeight": "bold", "fontSize": 85, "align": "left", "baseline": "alphabetic", "color": "#000", "clip": false},
      "encoding": {
        "x": {"datum": {"year": 2011, "month": 1, "date": 19, "utc": true}, "type": "temporal", "axis": null},
        "y": {"datum": 6.285, "type": "quantitative", "axis": null},
        "text": {"field": "label"}
      }
    }
  ]
}
